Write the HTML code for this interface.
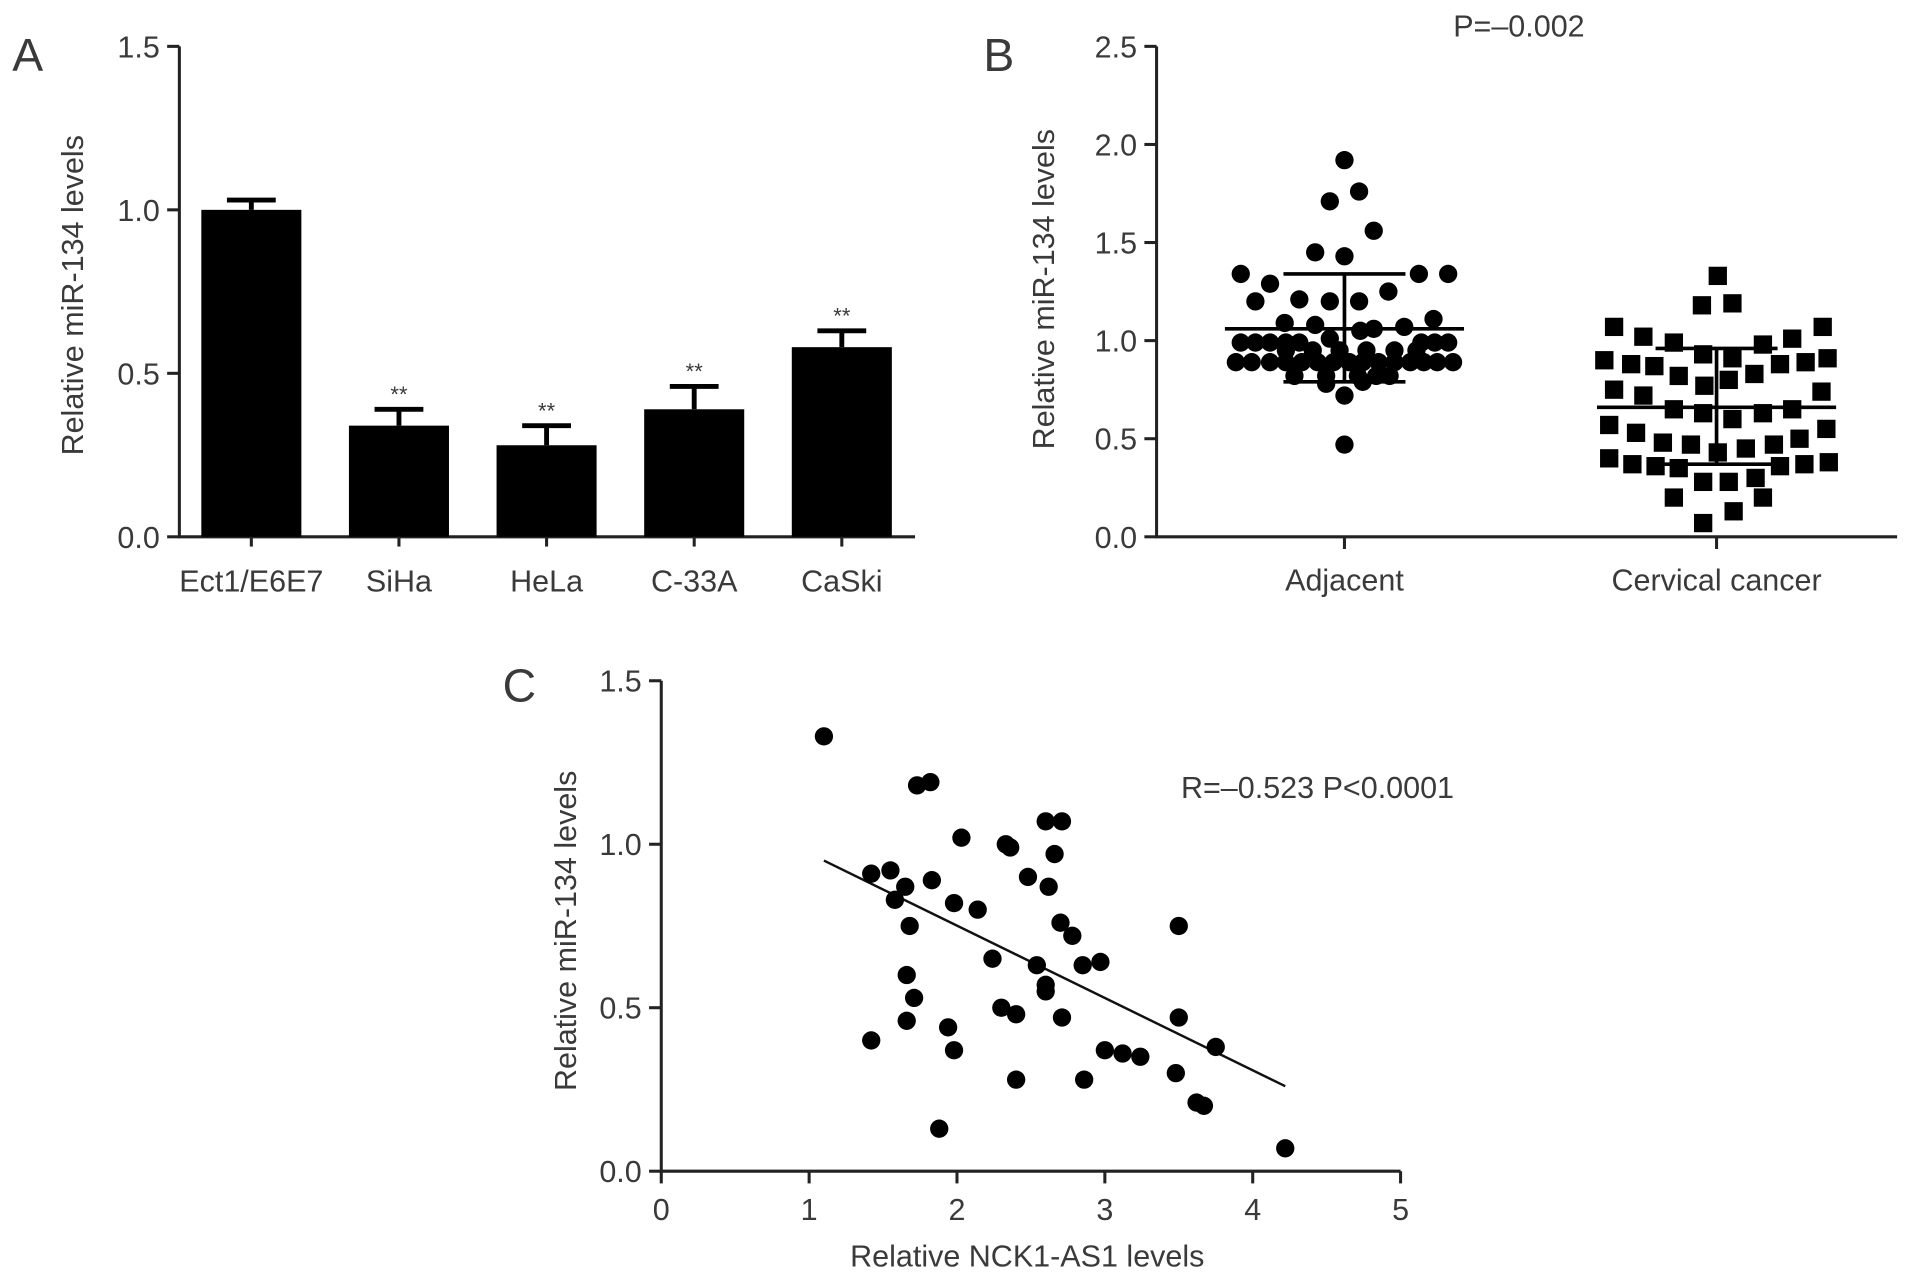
<!DOCTYPE html>
<html><head><meta charset="utf-8"><style>
html,body{margin:0;padding:0;background:#fff}
svg{display:block}
text{font-family:"Liberation Sans",sans-serif;fill:#3a3a3a}
</style></head><body>
<svg id="fig" width="1913" height="1281" viewBox="0 0 1568 1050" xmlns="http://www.w3.org/2000/svg">
<g id="pA"></g>
<g id="pB"></g>
<g id="pC"></g>
</svg>
<script>
// Panel A data
const aCategories = ["Ect1/E6E7","SiHa","HeLa","C-33A","CaSki"];
const aValues = [1.0,0.34,0.28,0.39,0.58];
const aErrors = [0.03,0.05,0.06,0.07,0.05];
const aSig = ["","**","**","**","**"];
const aTicks = [0,0.5,1.0,1.5];
// Panel B data
const bGroups = ["Adjacent","Cervical cancer"];
const bAdjValues = [1.92,1.76,1.71,1.56,1.45,1.43,1.34,1.29,1.34,1.34,1.20,1.21,1.20,1.20,1.25,1.09,1.08,1.05,1.06,1.07,1.11,1.01,
 0.99,0.99,0.99,0.99,0.99,0.99,0.99,0.99,
 0.89,0.89,0.89,0.89,0.89,0.89,0.89,0.89,0.89,0.89,0.89,0.89,0.89,0.89,0.89,
 0.95,0.95,0.95,0.95,0.95,0.95,
 0.82,0.82,0.82,0.82,0.82,0.78,0.79,0.72,0.47];
const bAdjJitter = [0,12,-12,24,-24,0,-85,-61,61,85,-73,-37,-12,12,36,-49,-24,13,24,49,73,-12,
 -85,-73,-61,-48,-37,63,74,85,
 -89,-76,-61,-48,-35,-22,-9,4,15,28,41,54,65,76,89,
 -48,-26,-4,18,41,59,
 -41,-15,11,26,37,-15,15,0,0];
const bCanValues = [1.33,1.18,1.19,1.07,1.02,0.99,0.98,1.01,1.07,0.90,0.88,0.87,0.82,0.93,0.91,0.83,0.88,0.89,0.91,
 0.77,0.80,0.75,0.72,0.74,0.65,0.63,0.60,0.63,0.65,0.57,0.53,0.48,0.47,0.43,0.45,0.47,0.50,0.55,
 0.40,0.37,0.36,0.35,0.36,0.37,0.38,0.28,0.28,0.30,0.20,0.20,0.13,0.07];
const bCanJitter = [1,-12,13,-84,-60,-35,38,62,87,-92,-70,-51,-31,-11,13,31,52,73,91,
 -10,10,-84,-60,86,-35,-11,13,38,62,-88,-66,-44,-21,1,24,47,68,90,
 -88,-69,-50,-31,52,72,92,-11,10,32,-35,38,14,-11];
const bAdjStats = [1.06,1.34,0.79];
const bCanStats = [0.66,0.96,0.37];
const bTicks = [0,0.5,1.0,1.5,2.0,2.5];
// Panel C data
const cX = [1.1,1.42,1.55,1.65,1.58,1.83,1.73,1.82,2.03,2.33,2.36,2.6,2.71,2.66,2.48,2.62,1.68,1.98,2.14,2.7,2.78,1.66,1.71,1.66,1.42,1.94,1.98,1.88,2.24,2.54,2.6,2.6,2.3,2.4,2.71,2.4,2.85,2.97,2.86,3.0,3.12,3.24,3.5,3.5,3.48,3.62,3.67,3.75,4.22];
const cY = [1.33,0.91,0.92,0.87,0.83,0.89,1.18,1.19,1.02,1.0,0.99,1.07,1.07,0.97,0.9,0.87,0.75,0.82,0.8,0.76,0.72,0.6,0.53,0.46,0.4,0.44,0.37,0.13,0.65,0.63,0.57,0.55,0.5,0.48,0.47,0.28,0.63,0.64,0.28,0.37,0.36,0.35,0.75,0.47,0.3,0.21,0.2,0.38,0.07];
const cFit = [[1.1,0.95],[4.22,0.26]];
const cXTicks = [0,1,2,3,4,5];
const cYTicks = [0,0.5,1.0,1.5];

const NS="http://www.w3.org/2000/svg";
function mk(parent,tag,attrs,txt){const e=document.createElementNS(NS,tag);for(const k in attrs)e.setAttribute(k,attrs[k]);if(txt!==undefined)e.textContent=txt;parent.appendChild(e);return e;}
const fmt=v=>v.toFixed(1);
const FS=25, TFS=25;

// ---------- Panel A ----------
(function(){
const g=document.getElementById('pA');
const y=v=>440-v*268, x0=147, x1=750, step=121, first=206;
const x=i=>first+i*step;
let t=mk(g,'text',{x:10,y:58,'font-size':38});
t.textContent='A';
let ax=mk(g,'path',{d:`M${x0} ${y(1.5)}V440H${x1}`,stroke:'#222','stroke-width':2.5,fill:'none'});

aTicks.forEach(v=>{mk(g,'line',{x1:x0-10,x2:x0,y1:y(v),y2:y(v),stroke:'#222','stroke-width':2.5});
 const l=mk(g,'text',{x:x0-16,y:y(v)+9,'text-anchor':'end','font-size':FS},fmt(v));
 });
const yt=mk(g,'text',{transform:'translate(68,242) rotate(-90)','text-anchor':'middle','font-size':TFS},'Relative miR-134 levels');

aCategories.forEach((c,i)=>{
 const b=mk(g,'rect',{x:x(i)-41,y:y(aValues[i]),width:82,height:440-y(aValues[i]),fill:'#000'});
 
 const top=y(aValues[i]+aErrors[i]);
 mk(g,'path',{d:`M${x(i)} ${y(aValues[i])}V${top}M${x(i)-20} ${top}H${x(i)+20}`,stroke:'#000','stroke-width':4});
 if(aSig[i]){const s=mk(g,'text',{x:x(i),y:top-6,'text-anchor':'middle','font-size':18},aSig[i]);
  }
 mk(g,'line',{x1:x(i),x2:x(i),y1:440,y2:448,stroke:'#222','stroke-width':2.5});
 const l=mk(g,'text',{x:x(i),y:485,'text-anchor':'middle','font-size':FS},c);
 
});
})();

// ---------- Panel B ----------
(function(){
const g=document.getElementById('pB');
const y=v=>440-v*160.8, x0=948, x1=1555, gx=[1102,1407];
let t=mk(g,'text',{x:806,y:58,'font-size':38},'B');

let p=mk(g,'text',{x:1245,y:30,'text-anchor':'middle','font-size':FS},'P=\u20130.002');

let ax=mk(g,'path',{d:`M${x0} ${y(2.5)}V440H${x1}`,stroke:'#222','stroke-width':2.5,fill:'none'});

bTicks.forEach(v=>{mk(g,'line',{x1:x0-10,x2:x0,y1:y(v),y2:y(v),stroke:'#222','stroke-width':2.5});
 const l=mk(g,'text',{x:x0-16,y:y(v)+9,'text-anchor':'end','font-size':FS},fmt(v));
 });
const yt=mk(g,'text',{transform:'translate(864,237) rotate(-90)','text-anchor':'middle','font-size':TFS},'Relative miR-134 levels');

bGroups.forEach((c,i)=>{mk(g,'line',{x1:gx[i],x2:gx[i],y1:440,y2:450,stroke:'#222','stroke-width':2.5});
 const l=mk(g,'text',{x:gx[i],y:484,'text-anchor':'middle','font-size':FS},c);
 });
bAdjValues.forEach((v,i)=>{const d=mk(g,'circle',{cx:gx[0]+bAdjJitter[i],cy:y(v),r:7.5,fill:'#000'});
 });
bCanValues.forEach((v,i)=>{const d=mk(g,'rect',{x:gx[1]+bCanJitter[i]-7.5,y:y(v)-7.5,width:15,height:15,fill:'#000'});
 });
[bAdjStats,bCanStats].forEach((s,i)=>{const cx=gx[i];
 const e=mk(g,'path',{d:`M${cx-98} ${y(s[0])}H${cx+98}M${cx} ${y(s[1])}V${y(s[2])}M${cx-50} ${y(s[1])}H${cx+50}M${cx-50} ${y(s[2])}H${cx+50}`,stroke:'#000','stroke-width':3,fill:'none'});
 });
})();

// ---------- Panel C ----------
(function(){
const g=document.getElementById('pC');
const x=v=>542+v*121.2, y=v=>960-v*268;
let t=mk(g,'text',{x:412,y:575,'font-size':38},'C');

let ax=mk(g,'path',{d:`M${x(0)} ${y(1.5)}V960H${x(5)}`,stroke:'#222','stroke-width':2.5,fill:'none'});

cYTicks.forEach(v=>{mk(g,'line',{x1:x(0)-10,x2:x(0),y1:y(v),y2:y(v),stroke:'#222','stroke-width':2.5});
 const l=mk(g,'text',{x:x(0)-16,y:y(v)+9,'text-anchor':'end','font-size':FS},fmt(v));
 });
cXTicks.forEach(v=>{mk(g,'line',{x1:x(v),x2:x(v),y1:960,y2:970,stroke:'#222','stroke-width':2.5});
 const l=mk(g,'text',{x:x(v),y:1000,'text-anchor':'middle','font-size':FS},String(v));
 });
const yt=mk(g,'text',{transform:'translate(472,763) rotate(-90)','text-anchor':'middle','font-size':TFS},'Relative miR-134 levels');

const xt=mk(g,'text',{x:842,y:1038,'text-anchor':'middle','font-size':TFS},'Relative NCK1-AS1 levels');

const st=mk(g,'text',{x:968,y:654,'font-size':FS},'R=\u20130.523  P<0.0001');

const fl=mk(g,'line',{x1:x(cFit[0][0]),y1:y(cFit[0][1]),x2:x(cFit[1][0]),y2:y(cFit[1][1]),stroke:'#111','stroke-width':2});

cX.forEach((v,i)=>{const d=mk(g,'circle',{cx:x(v),cy:y(cY[i]),r:7.5,fill:'#000'});
 });
})();
</script>
</body></html>
